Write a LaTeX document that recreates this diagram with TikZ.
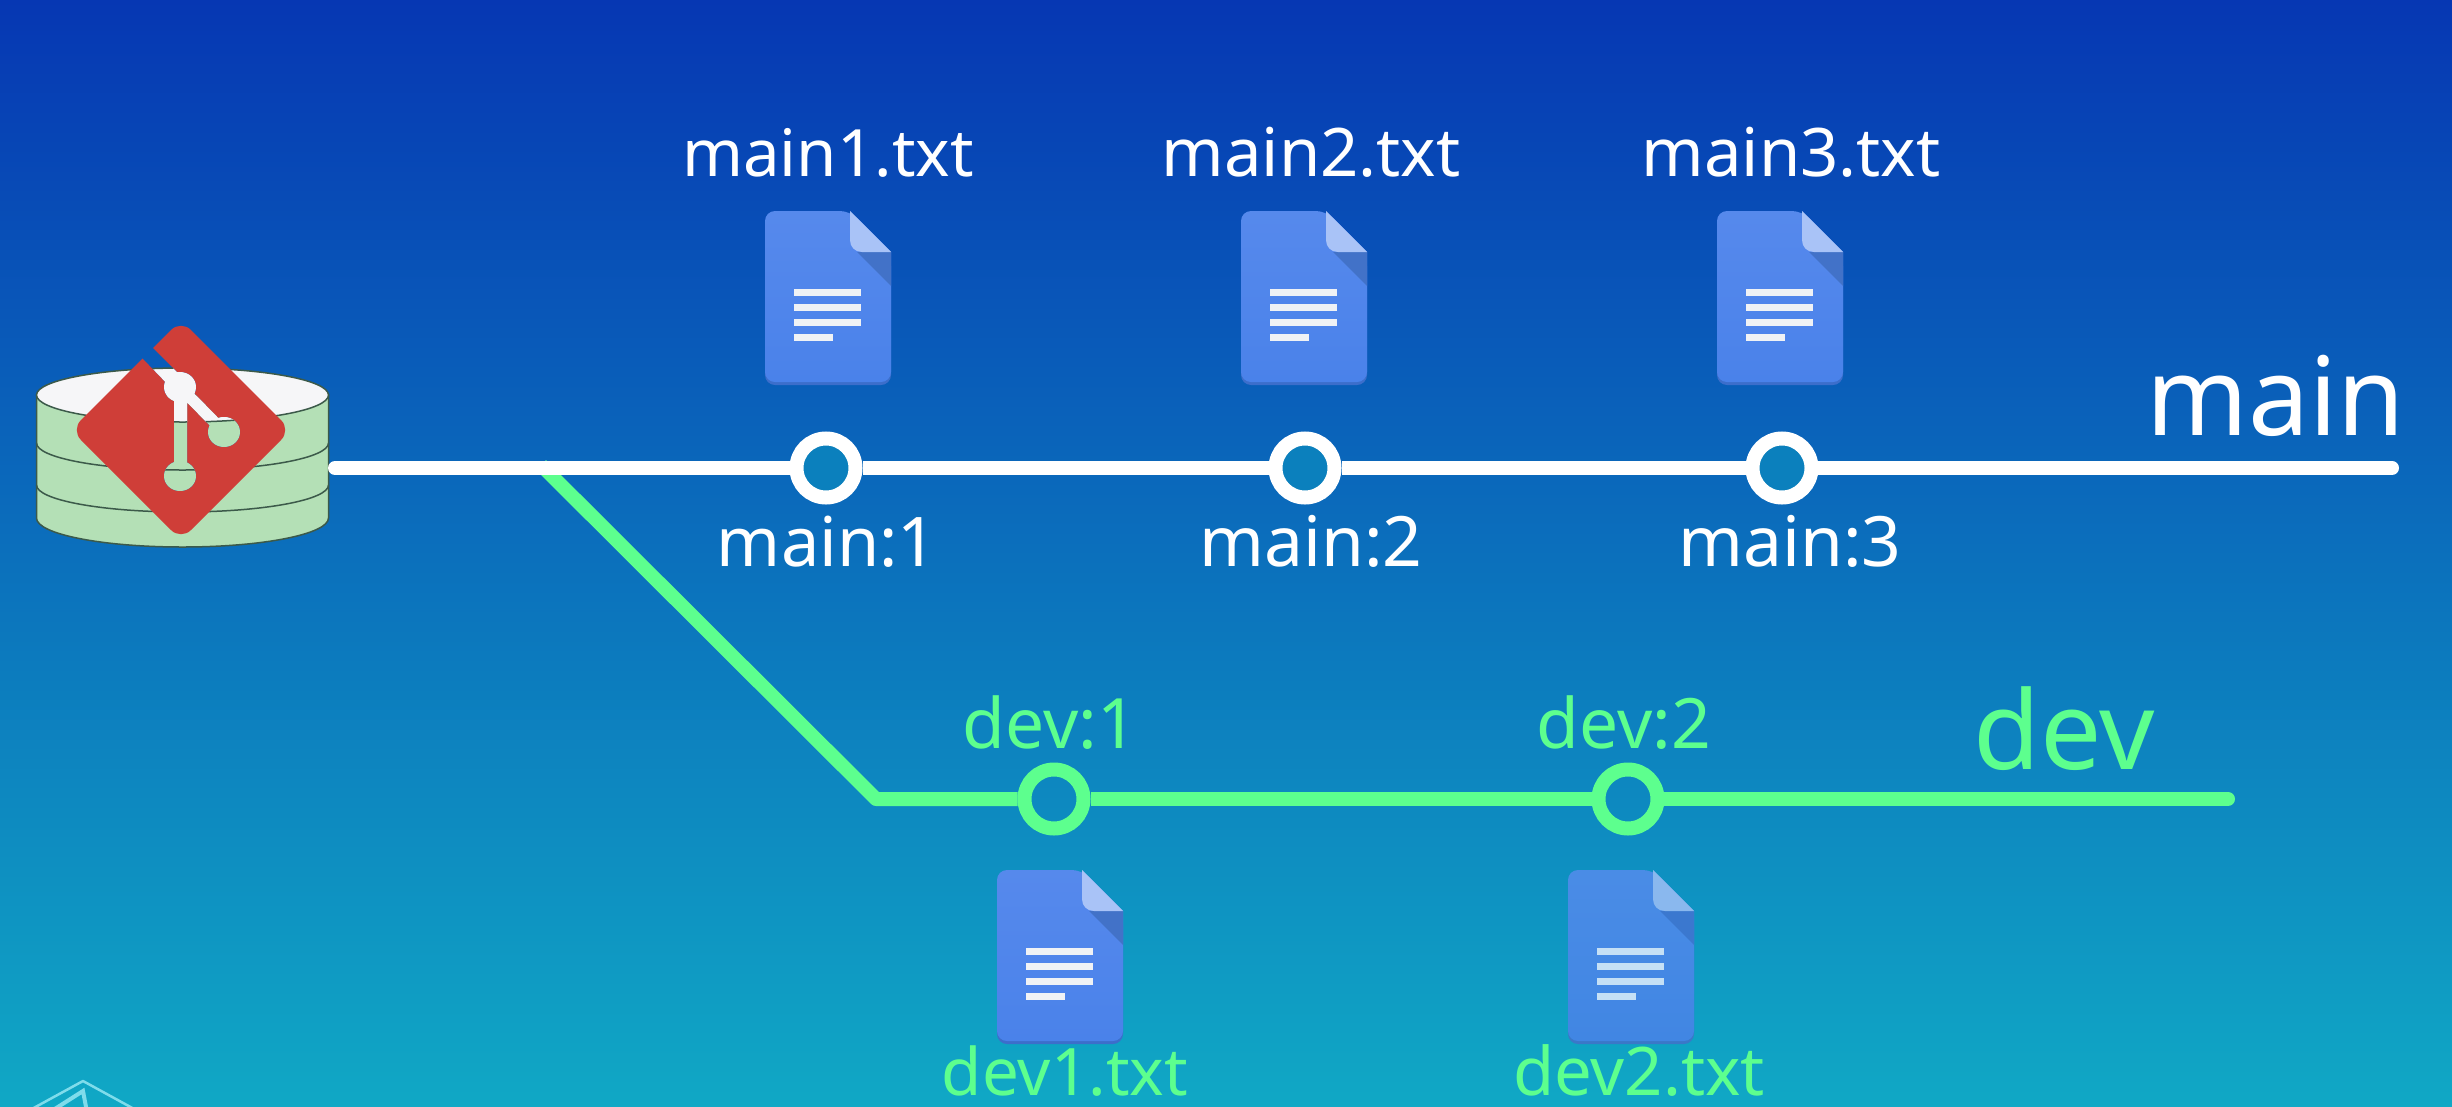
\documentclass[tikz,border=0pt]{standalone}
\usepackage{fontspec}
\setmainfont{Noto Sans}
\definecolor{bgtop}{HTML}{0637B3}
\definecolor{bgmid}{HTML}{0A6CBC}
\definecolor{bgbot}{HTML}{10A8C5}
\definecolor{branchgreen}{HTML}{5DFF8E}
\definecolor{commitfill}{HTML}{0B80BD}
\definecolor{cylgreen}{HTML}{B4E0B6}
\definecolor{cyltop}{HTML}{F6F6F8}
\definecolor{cylline}{HTML}{3C5A4A}
\definecolor{gitred}{HTML}{CF3E38}
\definecolor{doctop}{HTML}{5689EC}
\definecolor{docbot}{HTML}{4A82EA}
\definecolor{docedge}{HTML}{3C6ECB}
\definecolor{docfold}{HTML}{A9C3F7}
\definecolor{docshadow}{HTML}{4272C8}
\definecolor{docline}{HTML}{F0F2F5}
\definecolor{markcol}{HTML}{7FDCEB}
\newcommand{\scenery}{%
  \shade[top color=bgtop,middle color=bgmid,bottom color=bgbot] (0,0) rectangle (2452,1106);
  \filldraw[cylbody] (36.5,395) -- (36.5,518) arc[start angle=180,end angle=0,x radius=146,y radius=29] -- (328.5,395) -- cycle;
  \draw[cylrim] (36.5,443) arc[start angle=180,end angle=0,x radius=146,y radius=27];
  \draw[cylrim] (36.5,485) arc[start angle=180,end angle=0,x radius=146,y radius=27];
  \filldraw[cylrim,fill=cyltop] (182.5,395) ellipse[x radius=146,y radius=27];
}
\tikzset{
  x=1pt,y=-1pt,
  cylbody/.style={draw=cylline,fill=cylgreen,line width=1.5pt},
  cylrim/.style={draw=cylline,line width=1.5pt},
  commitmain/.style={circle,draw=white,fill=commitfill,line width=14pt,minimum size=59pt,inner sep=0pt},
  commitdev/.style={circle,draw=branchgreen,line width=14pt,minimum size=59pt,inner sep=0pt},
  mainline/.style={draw=white,line width=14pt},
  devline/.style={draw=branchgreen,line width=14pt,line join=round},
  lab/.style={anchor=base,inner sep=0pt,text=white,font=\fontsize{67}{70}\selectfont},
  collab/.style={lab,font=\fontsize{69.5}{72}\selectfont},
  devlab/.style={lab,text=branchgreen,font=\fontsize{65.5}{70}\selectfont},
  devcollab/.style={collab,text=branchgreen},
  biglab/.style={anchor=base,inner sep=0pt,font=\fontsize{109}{114}\selectfont},
  docicon/.pic={
    \fill[docedge,rounded corners=10pt] (85,4) -- (126,45) -- (126,174) -- (0,174) -- (0,4) -- cycle;
    \shade[top color=doctop,bottom color=docbot] [rounded corners=10pt] (0,0) -- (85,0) [sharp corners] -- (126,41) [rounded corners=10pt] -- (126,171) -- (0,171) -- cycle;
    \fill[docshadow] (92,41) -- (126,41) -- (126,75) -- cycle;
    \fill[docfold] (85,0) -- (126,41) -- (97,41) .. controls (90,41) and (85,36) .. (85,29) -- cycle;
    \fill[docline] (29,78) rectangle (96,85);
    \fill[docline] (29,93) rectangle (96,100);
    \fill[docline] (29,108) rectangle (96,115);
    \fill[docline] (29,123) rectangle (68,130);
  },
}
\begin{document}
\begin{tikzpicture}
\useasboundingbox (0,0) rectangle (2452,1106);
\begin{scope}
\clip (0,0) rectangle (2452,1106);
\scenery
% corner mark
\draw[markcol,line width=2.5pt,line join=round] (30,1110) -- (83,1081) -- (136,1110);
\draw[markcol,line width=4pt] (50,1112) -- (83,1091) -- (87,1112);
% git logo
\fill[gitred,rounded corners=14pt] (71,430) -- (181,320) -- (291,430) -- (181,540) -- cycle;
\begin{scope}
\clip (133,328) -- (181,376) -- (175,392) -- (123,338) -- cycle
  (180,387) ellipse[x radius=16,y radius=15]
  (174,387) -- (187,387) -- (187,476) -- (174,476) -- cycle
  (180,476) ellipse[x radius=16,y radius=15]
  (184,383) -- (228,428) -- (220,436) -- (176,391) -- cycle
  (224,432) ellipse[x radius=16,y radius=15];
\scenery
\end{scope}
% nodes
\coordinate (db) at (335,468);
\coordinate (mainend) at (2392,468);
\coordinate (fork) at (541,465);
\coordinate (bend) at (876,799);
\coordinate (devend) at (2228,799);
\node[commitmain] (c1) at (826,468) {};
\node[commitmain] (c2) at (1305,468) {};
\node[commitmain] (c3) at (1782,468) {};
\node[commitdev] (d1) at (1054,799) {};
\node[commitdev] (d2) at (1628,799) {};
% connectors
\draw[devline,line cap=butt] (fork) -- (bend) -- (d1);
\draw[devline] (d1) -- (d2);
\draw[devline,line cap=round] (d2) -- (devend);
\draw[mainline,line cap=round] (db) -- (c1);
\draw[mainline] (c1) -- (c2);
\draw[mainline] (c2) -- (c3);
\draw[mainline,line cap=round] (c3) -- (mainend);
% documents
\pic (docm1) at (765,211) {docicon};
\pic (docm2) at (1241,211) {docicon};
\pic (docm3) at (1717,211) {docicon};
\pic (docd1) at (997,870) {docicon};
\begin{scope}
\definecolor{doctop}{HTML}{4A8CE6}
\definecolor{docbot}{HTML}{4186E3}
\definecolor{docedge}{HTML}{3A78C8}
\definecolor{docfold}{HTML}{8AB8EE}
\definecolor{docshadow}{HTML}{3B78CF}
\definecolor{docline}{HTML}{C5E0F5}
\pic (docd2) at (1568,870) {docicon};
\end{scope}
% labels
\node[lab,font=\fontsize{65.3}{70}\selectfont] (tm1) at (828,176) {main1.txt};
\node[lab] (tm2) at (1311,176) {main2.txt};
\node[lab] (tm3) at (1791,176) {main3.txt};
\node[collab,font=\fontsize{68.5}{72}\selectfont] (lm1) at (827,566) {main:1};
\node[collab] (lm2) at (1311,566) {main:2};
\node[collab] (lm3) at (1790,566) {main:3};
\node[biglab,text=white] (lmain) at (2276,435) {main};
\node[biglab,text=branchgreen] (ldev) at (2064,769) {dev};
\node[devcollab] (ld1) at (1050,748) {dev:1};
\node[devcollab] (ld2) at (1624,748) {dev:2};
\node[devlab] (td1) at (1065,1095) {dev1.txt};
\node[devlab,font=\fontsize{67}{70}\selectfont] (td2) at (1639,1095) {dev2.txt};
\end{scope}
\end{tikzpicture}
\end{document}
